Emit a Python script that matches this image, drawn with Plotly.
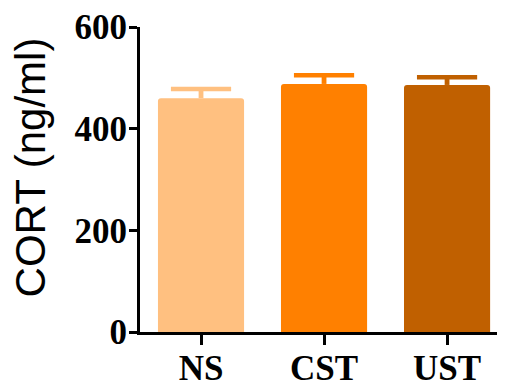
import plotly.graph_objects as go

categories = ["NS", "CST", "UST"]
means = [460, 488, 486]
sem = [18, 17, 15]
colors = ["#FFC080", "#FF8000", "#C06000"]
y_ticks = [0, 200, 400, 600]
y_title = "CORT (ng/ml)"

fig = go.Figure()
for c, m, col in zip(categories, means, colors):
    fig.add_trace(go.Bar(
        x=[c], y=[m],
        marker=dict(color=col, line=dict(width=0), cornerradius=3),
        showlegend=False, hoverinfo="skip",
    ))
# error bars: stem from the bar top upward, cap drawn as a horizontal-line marker
for c, m, e, col in zip(categories, means, sem, colors):
    fig.add_trace(go.Scatter(
        x=[c], y=[m], mode="markers",
        marker=dict(size=0.1, color=col, opacity=0),
        error_y=dict(type="data", array=[e], arrayminus=[0], color=col,
                     thickness=4.8, width=0),
        showlegend=False, hoverinfo="skip",
    ))
    fig.add_trace(go.Scatter(
        x=[c], y=[m + e], mode="markers",
        marker=dict(symbol="line-ew", size=43, color=col,
                    line=dict(color=col, width=4.5)),
        showlegend=False,
    ))

tick_font = dict(family="Liberation Serif", size=35, color="black", weight="bold")
fig.update_layout(
    width=505, height=382,
    margin=dict(l=132, r=8, t=19, b=58),
    plot_bgcolor="white", paper_bgcolor="white",
    bargap=0.30,
    xaxis=dict(
        range=[-0.496, 2.471], showgrid=False, zeroline=False, automargin=False,
        showline=True, linecolor="black", linewidth=3,
        ticks="outside", ticklen=10, tickwidth=3, tickcolor="black",
        tickfont=tick_font, ticklabelstandoff=-7,
    ),
    yaxis=dict(
        range=[0, 600], tickvals=y_ticks, showgrid=False, zeroline=False, automargin=False,
        showline=True, linecolor="black", linewidth=3,
        ticks="outside", ticklen=8, tickwidth=3, tickcolor="black",
        tickfont=tick_font, ticklabelstandoff=-5,
    ),
    annotations=[dict(
        text=y_title, textangle=-90, showarrow=False,
        xref="paper", yref="paper", x=-0.30, y=0.538,
        xanchor="center", yanchor="middle",
        font=dict(family="Liberation Sans", size=42, color="black"),
    )],
)

fig.write_html("out.html")
